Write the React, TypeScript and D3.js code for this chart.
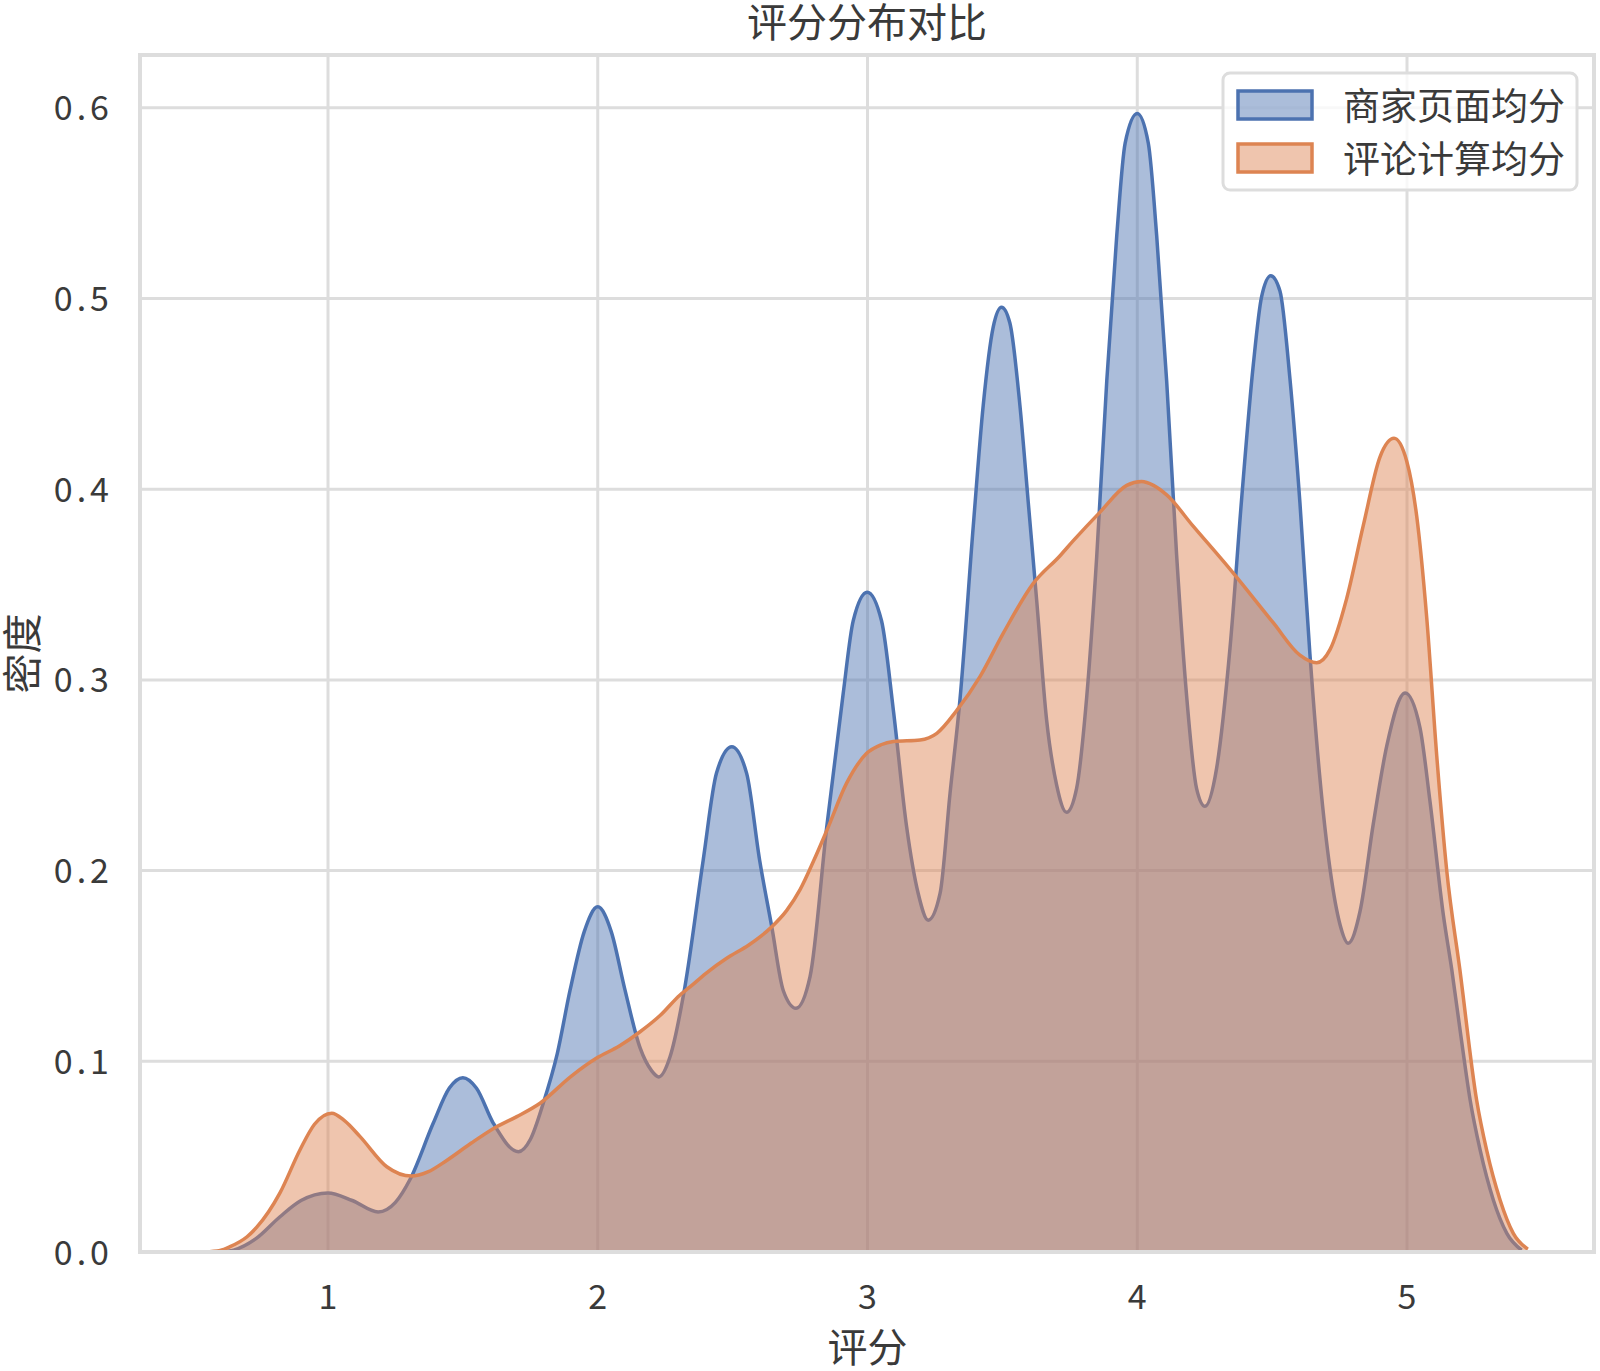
import React from "react";
import * as d3 from "d3";

const width = 1600;
const height = 1371;
const margin = { top: 55, right: 6, bottom: 119, left: 140 };

const title = "评分分布对比";
const xLabel = "评分";
const yLabel = "密度";
const seriesNames = ["商家页面均分", "评论计算均分"];
const seriesColors = ["#4c72b0", "#dd8452"];

const xTicks = [1, 2, 3, 4, 5];
const yTicks = [0, 0.1, 0.2, 0.3, 0.4, 0.5, 0.6];

// density curve: [score, density]
const merchantDensity: [number, number][] = [
  [0.6, 0.0], [0.65, 0.001], [0.733, 0.007], [0.822, 0.0185], [0.9, 0.027],
  [1.0, 0.031], [1.09, 0.027], [1.186, 0.021], [1.25, 0.026], [1.304, 0.038],
  [1.39, 0.0675], [1.45, 0.086], [1.5, 0.0914], [1.55, 0.086], [1.613, 0.0675],
  [1.706, 0.0526], [1.75, 0.059], [1.798, 0.078], [1.85, 0.104], [1.897, 0.137],
  [1.95, 0.168], [2.0, 0.181], [2.05, 0.168], [2.1, 0.138], [2.157, 0.107],
  [2.2, 0.095], [2.226, 0.0918], [2.268, 0.1024], [2.323, 0.139], [2.391, 0.2056], [2.44, 0.251],
  [2.497, 0.265], [2.552, 0.251], [2.6, 0.2056], [2.645, 0.1706], [2.688, 0.137],
  [2.735, 0.1278], [2.787, 0.1444], [2.849, 0.223], [2.91, 0.293], [2.947, 0.331],
  [2.999, 0.346], [3.052, 0.331], [3.096, 0.284], [3.145, 0.223], [3.188, 0.188],
  [3.225, 0.174], [3.269, 0.188], [3.306, 0.2405], [3.343, 0.29], [3.392, 0.3805],
  [3.429, 0.444], [3.466, 0.485], [3.497, 0.4954], [3.528, 0.487], [3.565, 0.444],
  [3.596, 0.393], [3.627, 0.342], [3.664, 0.279], [3.701, 0.245], [3.738, 0.2306],
  [3.775, 0.243], [3.813, 0.2916], [3.85, 0.3653], [3.887, 0.4568], [3.924, 0.533],
  [3.955, 0.5814], [4.0, 0.597], [4.041, 0.5814], [4.072, 0.533], [4.109, 0.4568],
  [4.146, 0.3653], [4.183, 0.2916], [4.22, 0.243], [4.251, 0.2337], [4.294, 0.2535],
  [4.344, 0.317], [4.387, 0.395], [4.43, 0.465], [4.461, 0.501], [4.495, 0.512],
  [4.529, 0.504], [4.566, 0.458], [4.603, 0.393], [4.64, 0.3136], [4.677, 0.2486],
  [4.715, 0.2004], [4.752, 0.1715], [4.782, 0.1619], [4.826, 0.1787], [4.875, 0.2245],
  [4.925, 0.2654], [4.993, 0.2931], [5.048, 0.275], [5.085, 0.2365], [5.135, 0.1764],
  [5.166, 0.148], [5.2, 0.113], [5.234, 0.0797], [5.271, 0.0535], [5.32, 0.0273],
  [5.37, 0.0098], [5.425, 0.001],
];

const reviewDensity: [number, number][] = [
  [0.544, 0.0], [0.6, 0.0008], [0.637, 0.0028], [0.7, 0.008], [0.736, 0.013],
  [0.822, 0.031], [0.896, 0.0535], [0.95, 0.067], [1.014, 0.0728], [1.06, 0.069],
  [1.119, 0.0605], [1.218, 0.0447], [1.31, 0.0398], [1.37, 0.042], [1.44, 0.048],
  [1.53, 0.057], [1.625, 0.0657], [1.7, 0.071], [1.786, 0.078], [1.9, 0.092],
  [1.996, 0.1017], [2.08, 0.108], [2.157, 0.1155], [2.231, 0.124], [2.305, 0.1348],
  [2.342, 0.139], [2.4, 0.146], [2.478, 0.154], [2.56, 0.161], [2.639, 0.1697],
  [2.7, 0.179], [2.75, 0.19], [2.8, 0.205], [2.849, 0.221], [2.923, 0.246],
  [2.997, 0.2615], [3.05, 0.266], [3.096, 0.2677], [3.195, 0.2685], [3.257, 0.272],
  [3.331, 0.284], [3.417, 0.3017], [3.503, 0.3244], [3.614, 0.3505], [3.713, 0.365],
  [3.763, 0.373], [3.862, 0.388], [3.961, 0.402], [4.016, 0.404], [4.06, 0.402],
  [4.109, 0.397], [4.208, 0.3805], [4.356, 0.356], [4.504, 0.33], [4.603, 0.313],
  [4.665, 0.309], [4.715, 0.316], [4.776, 0.3425], [4.838, 0.381], [4.9, 0.417],
  [4.952, 0.4267], [4.999, 0.4147], [5.036, 0.3858], [5.073, 0.3328], [5.11, 0.2606],
  [5.147, 0.2004], [5.196, 0.148], [5.258, 0.0797], [5.295, 0.0535], [5.345, 0.0273],
  [5.394, 0.0098], [5.448, 0.0015],
];

const series = [merchantDensity, reviewDensity];

const font = '"Noto Sans CJK SC", "Noto Sans", sans-serif';
const textColor = "#3a3a3a";
const gridColor = "#dddddd";

const App = () => {
  const innerW = width - margin.left - margin.right;
  const innerH = height - margin.top - margin.bottom;

  // matplotlib-style 5% padding around the curves' support
  const xScale = d3.scaleLinear().domain([0.3031, 5.6932]).range([margin.left, margin.left + innerW]);
  const yScale = d3.scaleLinear().domain([0, 0.6277]).range([margin.top + innerH, margin.top]);

  const area = d3
    .area<[number, number]>()
    .x((d) => xScale(d[0]))
    .y0(yScale(0))
    .y1((d) => yScale(d[1]))
    .curve(d3.curveMonotoneX);

  const line = d3
    .line<[number, number]>()
    .x((d) => xScale(d[0]))
    .y((d) => yScale(d[1]))
    .curve(d3.curveMonotoneX);

  const legendX = 1223;
  const legendY = 73;

  return (
    <svg
      width={width}
      height={height}
      style={{ position: "absolute", left: 0, top: 0, background: "#fff" }}
      fontFamily={font}
    >
      {/* grid */}
      {xTicks.map((t) => (
        <line key={`gx${t}`} x1={xScale(t)} x2={xScale(t)} y1={margin.top} y2={margin.top + innerH} stroke={gridColor} strokeWidth={3} />
      ))}
      {yTicks.map((t) => (
        <line key={`gy${t}`} x1={margin.left} x2={margin.left + innerW} y1={yScale(t)} y2={yScale(t)} stroke={gridColor} strokeWidth={3} />
      ))}

      {/* density curves: fill then outline, blue first */}
      {series.map((s, i) => (
        <g key={seriesNames[i]}>
          <path d={area(s) || ""} fill={seriesColors[i]} fillOpacity={0.47} />
          <path d={line(s) || ""} fill="none" stroke={seriesColors[i]} strokeWidth={3.5} strokeLinejoin="round" />
        </g>
      ))}

      {/* frame */}
      <rect x={margin.left} y={margin.top} width={innerW} height={innerH} fill="none" stroke={gridColor} strokeWidth={4} />

      {/* tick labels */}
      {xTicks.map((t) => (
        <text key={`tx${t}`} x={xScale(t)} y={1309} textAnchor="middle" fontSize={34} fill={textColor}>
          {t}
        </text>
      ))}
      {yTicks.map((t) => (
        <text key={`ty${t}`} x={113} y={yScale(t) + 12.5} textAnchor="end" fontSize={34} letterSpacing={4} fill={textColor}>
          {t.toFixed(1)}
        </text>
      ))}

      {/* axis titles */}
      <text x={xScale(3)} y={1362} textAnchor="middle" fontSize={40} fill={textColor}>
        {xLabel}
      </text>
      <text transform={`translate(37, ${margin.top + innerH / 2}) rotate(-90)`} textAnchor="middle" fontSize={40} fill={textColor}>
        {yLabel}
      </text>
      <text x={margin.left + innerW / 2} y={37} textAnchor="middle" fontSize={40} fill={textColor}>
        {title}
      </text>

      {/* legend */}
      <rect x={legendX} y={legendY} width={354} height={117} rx={7} fill="#fff" fillOpacity={0.8} stroke={gridColor} strokeWidth={3} />
      {seriesNames.map((name, i) => (
        <g key={name} transform={`translate(0, ${i * 53})`}>
          <rect x={1238} y={91} width={74} height={28} fill={seriesColors[i]} fillOpacity={0.47} stroke={seriesColors[i]} strokeWidth={3.5} />
          <text x={1343} y={120} fontSize={37} fill={textColor}>
            {name}
          </text>
        </g>
      ))}
    </svg>
  );
};

export default App;
